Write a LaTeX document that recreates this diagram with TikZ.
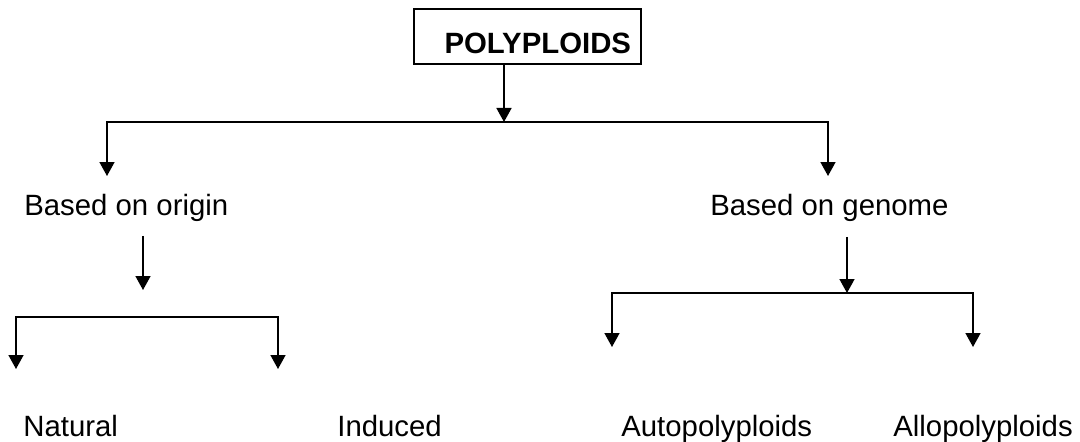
\documentclass[tikz,border=0pt]{standalone}
\usepackage{fontspec}
\setmainfont{Liberation Sans}
\usetikzlibrary{arrows.meta}

\tikzset{
  arr/.style={-{Triangle[width=0.3cm,length=0.28cm]}, line width=0.9pt},
  lbl/.style={anchor=base west, inner sep=0pt, font=\fontsize{16.7}{20}\selectfont},
  rootbox/.style={draw, line width=0.9pt, anchor=north west, inner sep=0pt,
    minimum width=4.54cm, minimum height=1.1cm, text height=0.7cm, text depth=0pt,
    font=\fontsize{16.7}{20}\selectfont\bfseries}
}

\begin{document}
\begin{tikzpicture}[x=0.02cm,y=-0.02cm]
    \useasboundingbox (0,0) rectangle (1080,442);

    % 顶部方框
    \node[rootbox] (poly) at (413,8) {\hspace*{0.42cm}POLYPLOIDS};

    % 第一层分支
    \coordinate (j0) at (504,122);
    \coordinate (ta) at (107,176);
    \coordinate (tb) at (828,176);
    \draw[arr] (poly.south -| j0) -- (j0);
    \draw[arr] (j0) -| (ta);
    \draw[arr] (j0) -| (tb);
    \node[lbl] (origin) at (24,216) {Based on origin};
    \node[lbl] (genome) at (710,216) {Based on genome};

    % 按来源分
    \coordinate (oa) at (143,236);
    \coordinate (ob) at (143,290);
    \draw[arr] (oa) -- (ob);
    \coordinate (j1) at (147,317);
    \coordinate (na) at (16,369);
    \coordinate (nb) at (278,369);
    \draw[arr] (j1) -| (na);
    \draw[arr] (j1) -| (nb);
    \node[lbl] (natural) at (23,437) {Natural};
    \node[lbl] (induced) at (337,437) {Induced};

    % 按基因组分
    \coordinate (ga) at (847,237);
    \coordinate (j2) at (847,293);
    \coordinate (aa) at (612,347);
    \coordinate (ab) at (973,347);
    \draw[arr] (ga) -- (j2);
    \draw[arr] (j2) -| (aa);
    \draw[arr] (j2) -| (ab);
    \node[lbl] (auto) at (621,437) {Autopolyploids};
    \node[lbl] (allo) at (893,437) {Allopolyploids};
\end{tikzpicture}
\end{document}
